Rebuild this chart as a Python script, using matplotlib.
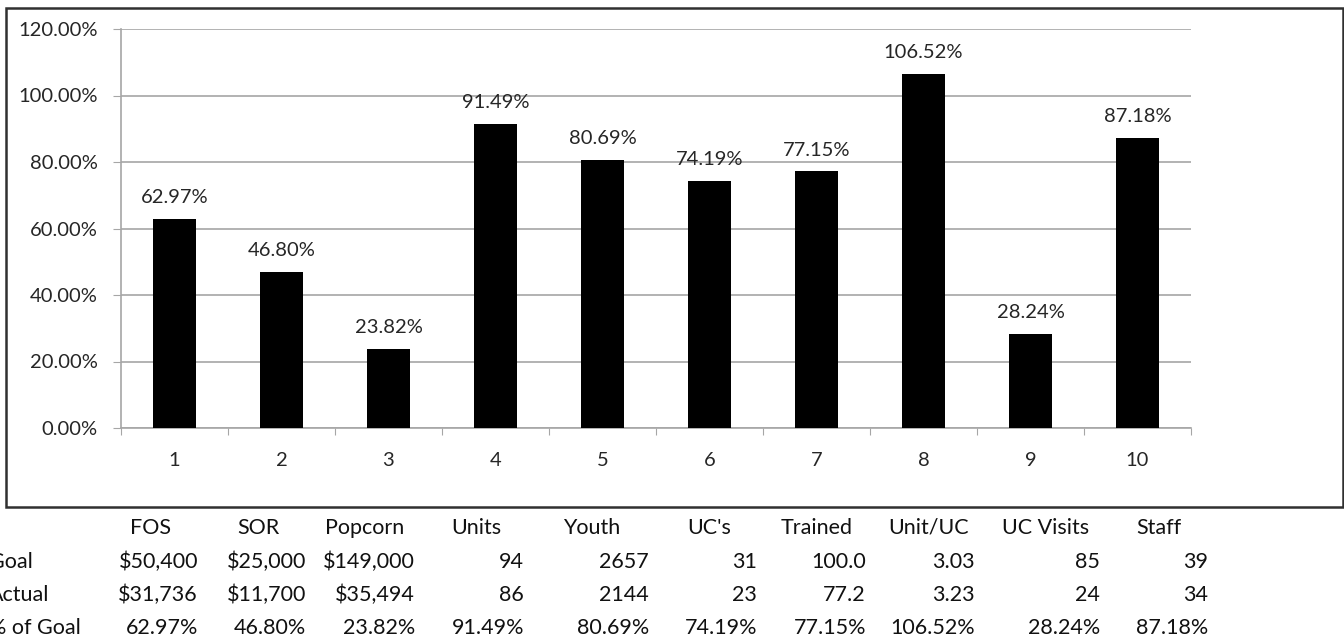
import matplotlib
matplotlib.use("Agg")
import matplotlib.pyplot as plt
from matplotlib.patches import Rectangle
from matplotlib.ticker import PercentFormatter, FixedLocator, NullFormatter

plt.rcParams['font.family'] = ['Lato', 'DejaVu Sans']

# ---- data ----
categories = [1, 2, 3, 4, 5, 6, 7, 8, 9, 10]
pct_of_goal = [62.97, 46.80, 23.82, 91.49, 80.69, 74.19, 77.15, 106.52, 28.24, 87.18]
headers = ["FOS", "SOR", "Popcorn", "Units", "Youth", "UC's", "Trained", "Unit/UC", "UC Visits", "Staff"]
row_labels = ["Goal", "Actual", "% of Goal"]
goal = [50400, 25000, 149000, 94, 2657, 31, 100.0, 3.03, 85, 39]
actual = [31736, 11700, 35494, 86, 2144, 23, 77.2, 3.23, 24, 34]
value_formats = ["${:,.0f}", "${:,.0f}", "${:,.0f}", "{:.0f}", "{:.0f}", "{:.0f}", "{:.1f}", "{:.2f}", "{:.0f}", "{:.0f}"]
y_ticks = [0, 20, 40, 60, 80, 100, 120]

# ---- layout (pixels) ----
W, H = 1344, 639
col_right = [198, 306, 415, 524, 649, 757, 866, 975, 1100, 1208]
head_left = [130, 237, 325, 451, 563, 687, 781, 888, 1002, 1136]
row_base = [568, 601, 634]
head_base = 534
label_x = -11

fig = plt.figure(figsize=(W / 100, H / 100), dpi=100)
ax = fig.add_axes([121 / W, 1 - 428 / H, (1191 - 121) / W, (428 - 29) / H])

ax.bar(categories, pct_of_goal, width=0.4, color='black', zorder=3)
for x, v in zip(categories, pct_of_goal):
    ax.annotate(f"{v:.2f}%", (x, v), xytext=(0, 11.5), textcoords='offset points',
                ha='center', va='baseline', fontsize=14.5, color='#262626')

ax.set_xlim(0.5, 10.5)
ax.set_ylim(0, 120)
ax.set_yticks(y_ticks)
ax.yaxis.set_major_formatter(PercentFormatter(decimals=2))
ax.grid(axis='y', color='#a6a6a6', linewidth=1.2, zorder=0)

ax.xaxis.set_major_locator(FixedLocator([c + 0.5 for c in [0] + categories]))
ax.xaxis.set_major_formatter(NullFormatter())
ax.xaxis.set_minor_locator(FixedLocator(categories))
ax.set_xticklabels([str(c) for c in categories], minor=True)
ax.tick_params(axis='x', which='major', length=5, color='#a6a6a6', direction='out')
ax.tick_params(axis='x', which='minor', length=0, pad=17, labelsize=14.5, labelcolor='#262626')
ax.tick_params(axis='y', length=6, color='#a6a6a6', pad=11, labelsize=14.5, labelcolor='#262626')

for s in ['top', 'right']:
    ax.spines[s].set_visible(False)
for s in ['left', 'bottom']:
    ax.spines[s].set_color('#a6a6a6')
    ax.spines[s].set_linewidth(1.2)

# outer chart border
fig.patches.append(Rectangle((6 / W, 1 - 507 / H), (1343 - 6) / W, (507 - 8) / H,
                             transform=fig.transFigure, fill=False,
                             edgecolor='#303030', linewidth=1.8))

# table below chart
tfs = 15.5
for xl, h in zip(head_left, headers):
    fig.text(xl / W, 1 - head_base / H, h, ha='left', va='baseline', fontsize=tfs, color='#111111')
rows = [
    [f.format(v) for f, v in zip(value_formats, goal)],
    [f.format(v) for f, v in zip(value_formats, actual)],
    [f"{v:.2f}%" for v in pct_of_goal],
]
for yy, lab, vals in zip(row_base, row_labels, rows):
    fig.text(label_x / W, 1 - yy / H, lab, ha='left', va='baseline', fontsize=tfs, color='#111111')
    for xr, s in zip(col_right, vals):
        fig.text(xr / W, 1 - yy / H, s, ha='right', va='baseline', fontsize=tfs, color='#111111')

fig.savefig("out.png", dpi=100)
